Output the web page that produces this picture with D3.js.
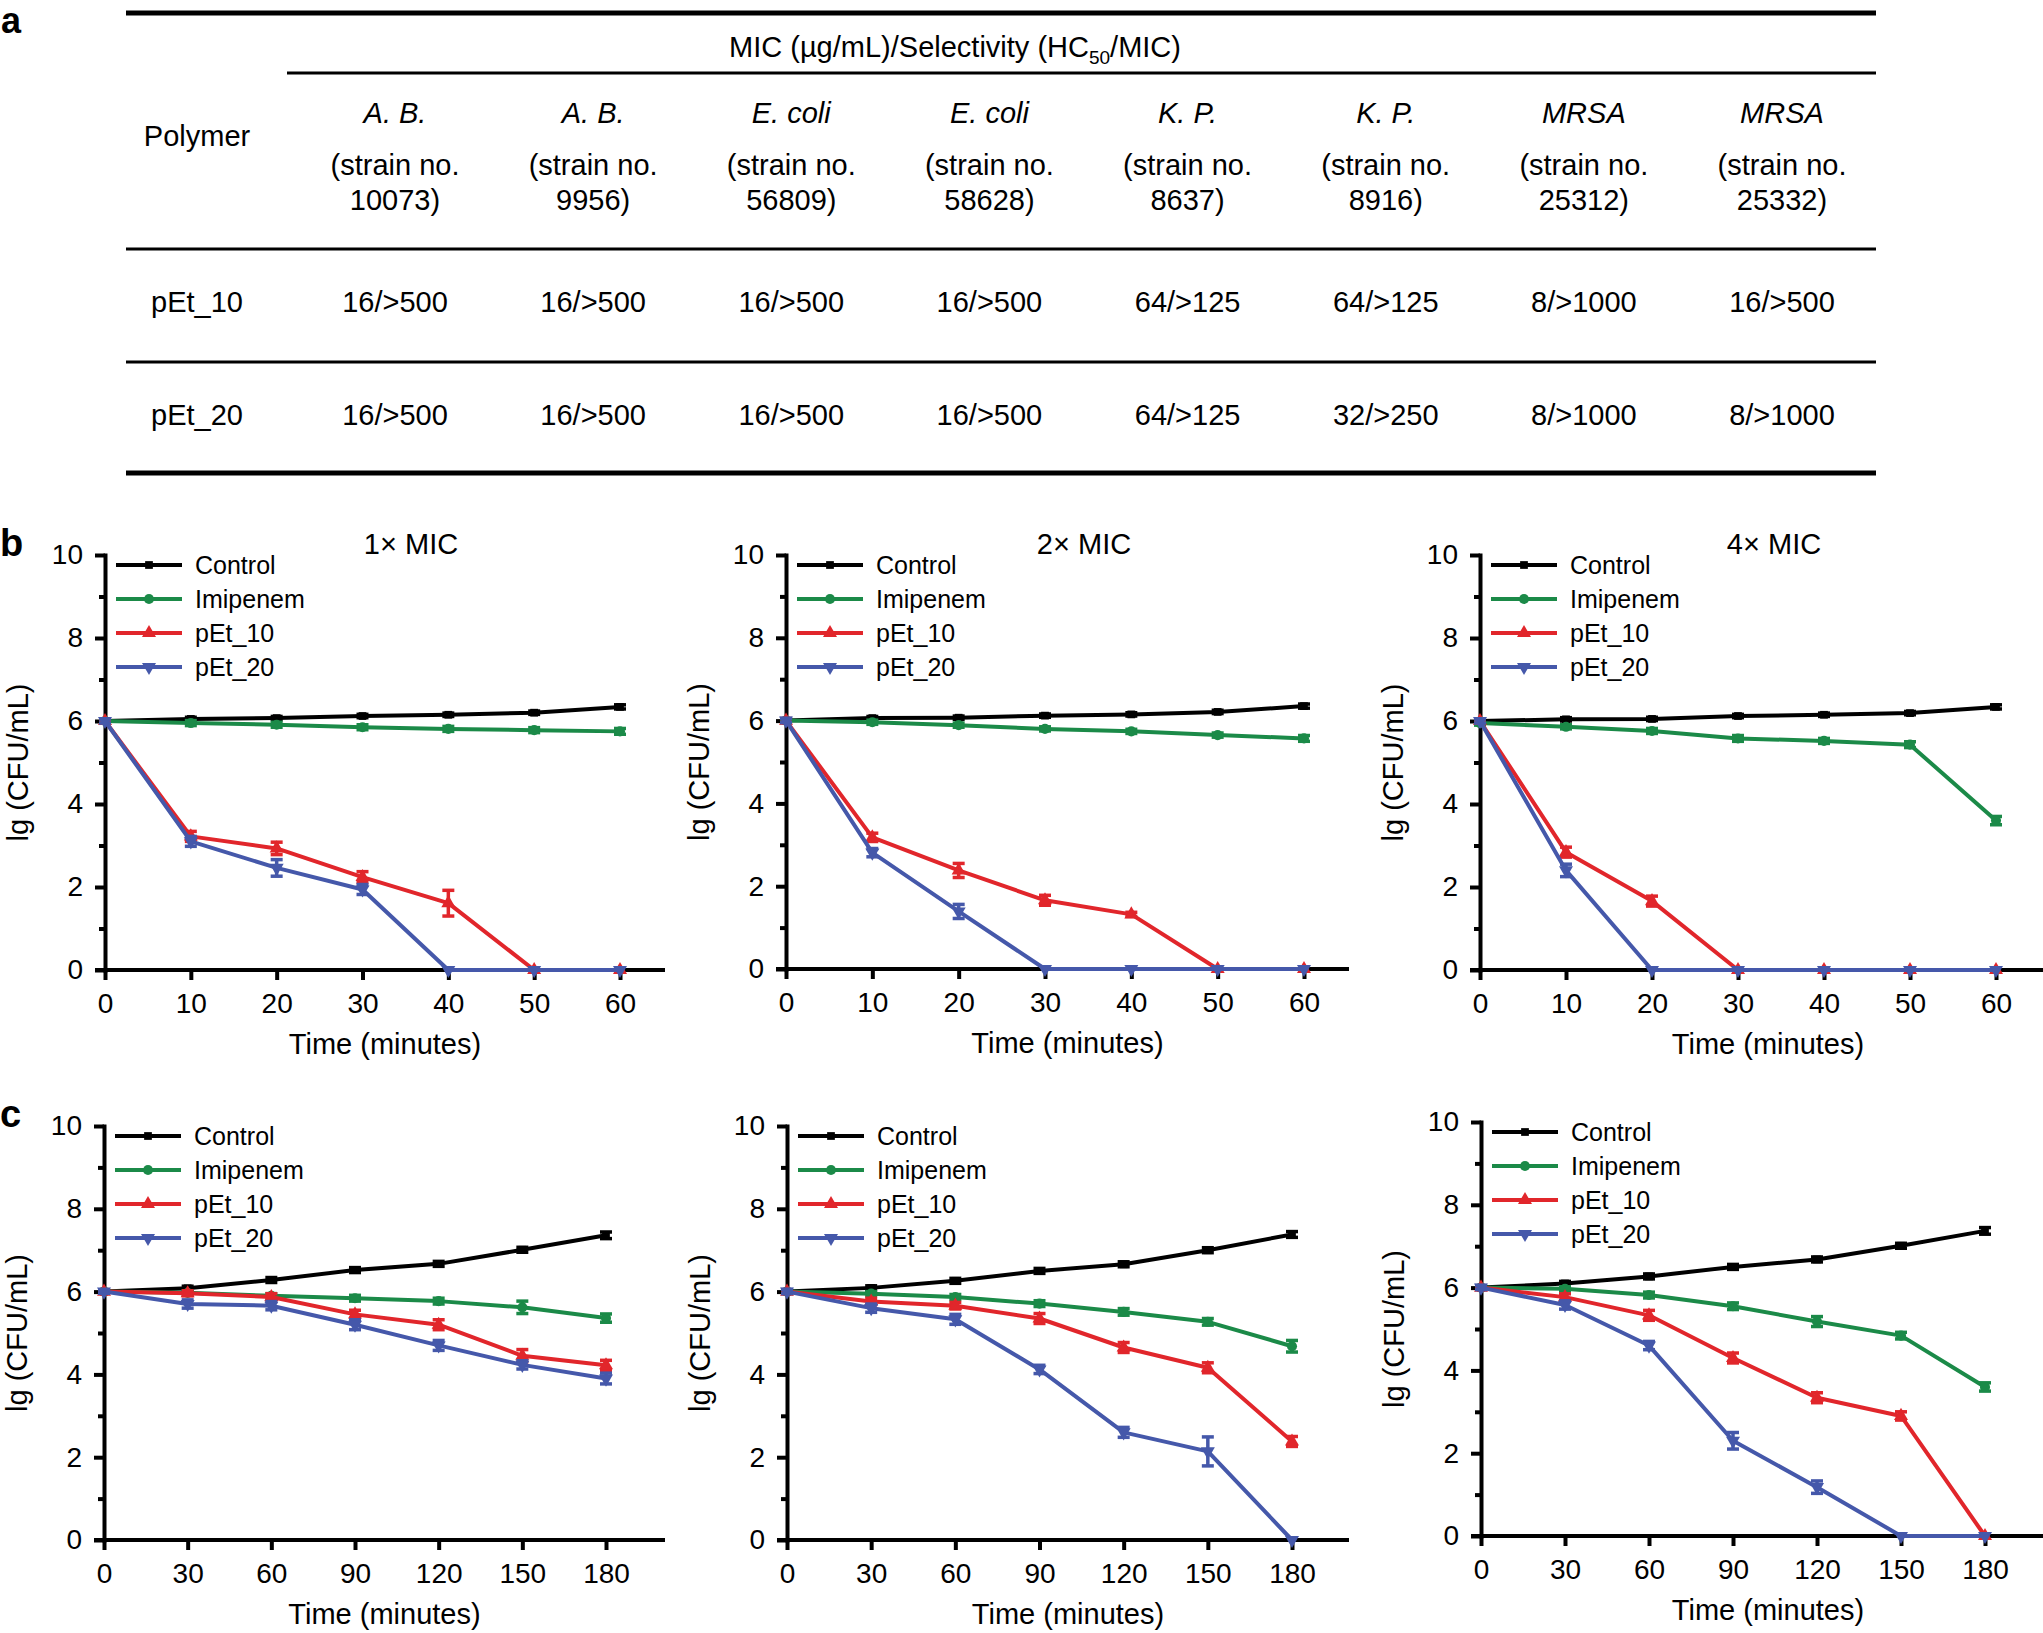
<!DOCTYPE html>
<head>
<meta charset="utf-8">
<style>
  body { margin:0; background:#fff; }
  text { font-family:"Liberation Sans", Arial, Helvetica, sans-serif; fill:#000; }
  .axis path, .axis line { stroke:#000; stroke-width:4; }
</style>
</head>
<script src="https://d3js.org/d3.v7.min.js"></script>
<div id="fig"></div>
<script>
// ---- table (panel a) ----
var species = ["A. B.", "A. B.", "E. coli", "E. coli", "K. P.", "K. P.", "MRSA", "MRSA"];
var strainNos = ["10073", "9956", "56809", "58628", "8637", "8916", "25312", "25332"];
var polymers = ["pEt_10", "pEt_20"];
var pEt10Mic = ["16/>500", "16/>500", "16/>500", "16/>500", "64/>125", "64/>125", "8/>1000", "16/>500"];
var pEt20Mic = ["16/>500", "16/>500", "16/>500", "16/>500", "64/>125", "32/>250", "8/>1000", "8/>1000"];

// ---- time-kill curves ----
var seriesNames = ["Control", "Imipenem", "pEt_10", "pEt_20"];
var timesB = [0, 10, 20, 30, 40, 50, 60];
var timesC = [0, 30, 60, 90, 120, 150, 180];
var yTicks = [0, 2, 4, 6, 8, 10];

// b, 1x MIC
var b1Control  = [6.0, 6.05, 6.07, 6.12, 6.15, 6.2, 6.34];
var b1Imipenem = [6.0, 5.95, 5.91, 5.85, 5.81, 5.78, 5.75];
var b1Pet10    = [6.0, 3.22, 2.93, 2.24, 1.61, 0, 0];
var b1Pet20    = [6.0, 3.1, 2.46, 1.94, 0, 0, 0];
var b1ControlErr  = [0.03, 0.04, 0.04, 0.04, 0.04, 0.04, 0.05];
var b1ImipenemErr = [0.03, 0.06, 0.06, 0.06, 0.06, 0.06, 0.07];
var b1Pet10Err    = [0.05, 0.12, 0.15, 0.13, 0.31, 0, 0];
var b1Pet20Err    = [0.05, 0.12, 0.2, 0.12, 0, 0, 0];
// b, 2x MIC
var b2Control  = [6.0, 6.06, 6.07, 6.12, 6.15, 6.21, 6.35];
var b2Imipenem = [6.0, 5.96, 5.89, 5.8, 5.74, 5.65, 5.57];
var b2Pet10    = [6.0, 3.18, 2.38, 1.66, 1.32, 0, 0];
var b2Pet20    = [6.0, 2.81, 1.39, 0, 0, 0, 0];
var b2ControlErr  = [0.03, 0.04, 0.04, 0.04, 0.04, 0.04, 0.05];
var b2ImipenemErr = [0.03, 0.05, 0.05, 0.05, 0.05, 0.05, 0.07];
var b2Pet10Err    = [0.05, 0.1, 0.17, 0.12, 0.05, 0, 0];
var b2Pet20Err    = [0.05, 0.1, 0.17, 0, 0, 0, 0];
// b, 4x MIC
var b3Control  = [6.0, 6.04, 6.05, 6.12, 6.15, 6.19, 6.34];
var b3Imipenem = [5.95, 5.86, 5.76, 5.58, 5.52, 5.43, 3.6];
var b3Pet10    = [6.0, 2.84, 1.66, 0, 0, 0, 0];
var b3Pet20    = [6.0, 2.4, 0, 0, 0, 0, 0];
var b3ControlErr  = [0.03, 0.04, 0.04, 0.04, 0.04, 0.04, 0.05];
var b3ImipenemErr = [0.05, 0.05, 0.06, 0.07, 0.06, 0.07, 0.1];
var b3Pet10Err    = [0.05, 0.12, 0.12, 0, 0, 0, 0];
var b3Pet20Err    = [0.05, 0.15, 0, 0, 0, 0, 0];
// c, 1x MIC
var c1Control  = [6.0, 6.08, 6.28, 6.52, 6.67, 7.01, 7.36];
var c1Imipenem = [6.0, 5.97, 5.9, 5.84, 5.77, 5.62, 5.36];
var c1Pet10    = [6.0, 5.96, 5.87, 5.45, 5.2, 4.45, 4.22];
var c1Pet20    = [6.0, 5.7, 5.66, 5.2, 4.7, 4.23, 3.9];
var c1ControlErr  = [0.04, 0.05, 0.06, 0.06, 0.06, 0.06, 0.08];
var c1ImipenemErr = [0.03, 0.05, 0.05, 0.07, 0.07, 0.15, 0.1];
var c1Pet10Err    = [0.04, 0.06, 0.08, 0.1, 0.12, 0.15, 0.12];
var c1Pet20Err    = [0.04, 0.1, 0.1, 0.12, 0.12, 0.1, 0.13];
// c, 2x MIC
var c2Control  = [6.0, 6.09, 6.26, 6.5, 6.66, 7.0, 7.38];
var c2Imipenem = [6.0, 5.95, 5.87, 5.71, 5.51, 5.27, 4.68];
var c2Pet10    = [6.0, 5.76, 5.66, 5.35, 4.65, 4.16, 2.38];
var c2Pet20    = [6.0, 5.6, 5.33, 4.12, 2.6, 2.14, 0];
var c2ControlErr  = [0.04, 0.05, 0.06, 0.06, 0.06, 0.06, 0.07];
var c2ImipenemErr = [0.03, 0.05, 0.06, 0.07, 0.08, 0.08, 0.14];
var c2Pet10Err    = [0.04, 0.08, 0.08, 0.12, 0.12, 0.12, 0.12];
var c2Pet20Err    = [0.05, 0.1, 0.12, 0.1, 0.12, 0.35, 0];
// c, 4x MIC
var c3Control  = [6.0, 6.1, 6.27, 6.5, 6.68, 7.01, 7.37];
var c3Imipenem = [6.0, 5.97, 5.82, 5.55, 5.18, 4.84, 3.6];
var c3Pet10    = [6.0, 5.77, 5.33, 4.3, 3.34, 2.9, 0];
var c3Pet20    = [6.0, 5.58, 4.6, 2.3, 1.18, 0, 0];
var c3ControlErr  = [0.04, 0.05, 0.06, 0.06, 0.06, 0.06, 0.08];
var c3ImipenemErr = [0.03, 0.05, 0.07, 0.08, 0.12, 0.08, 0.1];
var c3Pet10Err    = [0.04, 0.08, 0.12, 0.12, 0.12, 0.1, 0];
var c3Pet20Err    = [0.05, 0.1, 0.1, 0.2, 0.15, 0, 0];

var colors = ["#000000", "#1b8a48", "#e1262b", "#4558aa"];

var W = 2043, H = 1633;
var svg = d3.select("#fig").append("svg")
  .attr("width", W).attr("height", H);
svg.append("rect").attr("width", W).attr("height", H).attr("fill", "#fff");

// ================= table =================
var tbl = svg.append("g").attr("font-size", 29);
var colX = d3.scalePoint().domain(d3.range(species.length)).range([395, 1782]);

function hline(y, x1, w) {
  tbl.append("line").attr("x1", x1).attr("x2", 1876).attr("y1", y).attr("y2", y)
    .attr("stroke", "#000").attr("stroke-width", w);
}
hline(13, 126, 5);
hline(73, 287, 3);
hline(249, 126, 3);
hline(362, 126, 3);
hline(473, 126, 5);

svg.append("text").attr("x", 1).attr("y", 33).attr("font-size", 36)
  .attr("font-weight", "bold").text("a");

var hdr = tbl.append("text").attr("x", 955).attr("y", 57).attr("text-anchor", "middle");
hdr.append("tspan").text("MIC (\u00b5g/mL)/Selectivity (HC");
hdr.append("tspan").attr("font-size", 19).attr("dy", 7).text("50");
hdr.append("tspan").attr("dy", -7).text("/MIC)");

tbl.append("text").attr("x", 197).attr("y", 146).attr("text-anchor", "middle").text("Polymer");

tbl.selectAll(".sp").data(species).enter().append("text")
  .attr("x", function(d, i) { return colX(i); }).attr("y", 123)
  .attr("text-anchor", "middle").attr("font-style", "italic").text(function(d) { return d; });
tbl.selectAll(".st").data(strainNos).enter().append("text")
  .attr("x", function(d, i) { return colX(i); }).attr("y", 175)
  .attr("text-anchor", "middle").text("(strain no.");
tbl.selectAll(".sn").data(strainNos).enter().append("text")
  .attr("x", function(d, i) { return colX(i); }).attr("y", 210)
  .attr("text-anchor", "middle").text(function(d) { return d + ")"; });

[pEt10Mic, pEt20Mic].forEach(function(row, r) {
  var y = r === 0 ? 312 : 425;
  tbl.append("text").attr("x", 197).attr("y", y).attr("text-anchor", "middle").text(polymers[r]);
  tbl.selectAll(".v" + r).data(row).enter().append("text")
    .attr("x", function(d, i) { return colX(i); }).attr("y", y)
    .attr("text-anchor", "middle").text(function(d) { return d; });
});

// ================= curves =================
var panels = [
  {times: timesB, vals: [b1Control, b1Imipenem, b1Pet10, b1Pet20], errs: [b1ControlErr, b1ImipenemErr, b1Pet10Err, b1Pet20Err],
   x0: 105, x1: 620, ext: 45, yTop: 555, yBot: 970, title: "1\u00d7 MIC", titleX: 411, letter: "b"},
  {times: timesB, vals: [b2Control, b2Imipenem, b2Pet10, b2Pet20], errs: [b2ControlErr, b2ImipenemErr, b2Pet10Err, b2Pet20Err],
   x0: 786, x1: 1304, ext: 45, yTop: 555, yBot: 969, title: "2\u00d7 MIC", titleX: 1084},
  {times: timesB, vals: [b3Control, b3Imipenem, b3Pet10, b3Pet20], errs: [b3ControlErr, b3ImipenemErr, b3Pet10Err, b3Pet20Err],
   x0: 1480, x1: 1996, ext: 60, yTop: 555, yBot: 970, title: "4\u00d7 MIC", titleX: 1774},
  {times: timesC, vals: [c1Control, c1Imipenem, c1Pet10, c1Pet20], errs: [c1ControlErr, c1ImipenemErr, c1Pet10Err, c1Pet20Err],
   x0: 104, x1: 606, ext: 59, yTop: 1126, yBot: 1540, letter: "c"},
  {times: timesC, vals: [c2Control, c2Imipenem, c2Pet10, c2Pet20], errs: [c2ControlErr, c2ImipenemErr, c2Pet10Err, c2Pet20Err],
   x0: 787, x1: 1292, ext: 57, yTop: 1126, yBot: 1540},
  {times: timesC, vals: [c3Control, c3Imipenem, c3Pet10, c3Pet20], errs: [c3ControlErr, c3ImipenemErr, c3Pet10Err, c3Pet20Err],
   x0: 1481, x1: 1985, ext: 70, yTop: 1122, yBot: 1536}
];

function marker(g, s, x, y) {
  var shapes = [d3.symbolSquare, d3.symbolCircle, d3.symbolTriangle, d3.symbolTriangle];
  var sizes = [60, 80, 85, 85];
  g.append("path")
    .attr("d", d3.symbol().type(shapes[s]).size(sizes[s]))
    .attr("transform", "translate(" + x + "," + y + ")" + (s === 3 ? " rotate(180)" : ""))
    .attr("fill", colors[s]);
}

panels.forEach(function(p) {
  var g = svg.append("g");
  var x = d3.scaleLinear().domain([0, d3.max(p.times)]).range([p.x0, p.x1]);
  var y = d3.scaleLinear().domain([0, 10]).range([p.yBot, p.yTop]);

  // minor y ticks
  g.append("g").attr("class", "axis").attr("transform", "translate(" + p.x0 + ",0)")
    .call(d3.axisLeft(y).tickValues([1, 3, 5, 7, 9]).tickSize(6).tickSizeOuter(0).tickFormat(""))
    .select(".domain").remove();
  // major y axis
  var ya = g.append("g").attr("class", "axis").attr("transform", "translate(" + p.x0 + ",0)")
    .call(d3.axisLeft(y).tickValues(yTicks).tickSize(10).tickPadding(12).tickSizeOuter(0));
  ya.selectAll("text").attr("font-size", 28);
  ya.select(".domain").attr("stroke-linecap", "square");

  // x axis
  var xa = g.append("g").attr("class", "axis").attr("transform", "translate(0," + p.yBot + ")")
    .call(d3.axisBottom(x).tickValues(p.times).tickSize(10).tickPadding(13).tickSizeOuter(0));
  xa.selectAll("text").attr("font-size", 28);
  xa.select(".domain").remove();
  xa.append("line").attr("x1", p.x0 - 10).attr("x2", p.x1 + p.ext)
    .attr("stroke", "#000").attr("stroke-width", 4);

  // labels
  g.append("text").attr("transform", "translate(" + (p.x0 - 77) + "," + ((p.yTop + p.yBot) / 2) + ") rotate(-90)")
    .attr("text-anchor", "middle").attr("font-size", 29).text("lg (CFU/mL)");
  g.append("text").attr("x", (p.x0 + p.x1 + p.ext) / 2).attr("y", p.yBot + 84)
    .attr("text-anchor", "middle").attr("font-size", 29).text("Time (minutes)");
  if (p.title) {
    g.append("text").attr("x", p.titleX).attr("y", p.yTop - 1)
      .attr("text-anchor", "middle").attr("font-size", 29).text(p.title);
  }
  if (p.letter) {
    g.append("text").attr("x", 0).attr("y", p.yTop + 1).attr("font-size", 38)
      .attr("font-weight", "bold").text(p.letter);
  }

  // legend
  seriesNames.forEach(function(name, s) {
    var ly = p.yTop + 10 + s * 34;
    var lg = g.append("g");
    lg.append("line").attr("x1", p.x0 + 11).attr("x2", p.x0 + 77).attr("y1", ly).attr("y2", ly)
      .attr("stroke", colors[s]).attr("stroke-width", 4);
    marker(lg, s, p.x0 + 44, ly);
    lg.append("text").attr("x", p.x0 + 90).attr("y", ly + 9).attr("font-size", 25).text(name);
  });

  // series
  var line = d3.line().x(function(d) { return x(d[0]); }).y(function(d) { return y(d[1]); });
  p.vals.forEach(function(vals, s) {
    var pts = p.times.map(function(t, i) { return [t, vals[i], p.errs[s][i]]; });
    var sg = g.append("g");
    sg.append("path").datum(pts).attr("d", line)
      .attr("fill", "none").attr("stroke", colors[s]).attr("stroke-width", 4)
      .attr("stroke-linejoin", "round");
    pts.forEach(function(d) {
      var cx = x(d[0]);
      if (d[2] > 0) {
        var y1 = y(d[1] + d[2]), y2 = y(d[1] - d[2]);
        sg.append("line").attr("x1", cx).attr("x2", cx).attr("y1", y1).attr("y2", y2)
          .attr("stroke", colors[s]).attr("stroke-width", 3.5);
        [y1, y2].forEach(function(yy) {
          sg.append("line").attr("x1", cx - 6).attr("x2", cx + 6).attr("y1", yy).attr("y2", yy)
            .attr("stroke", colors[s]).attr("stroke-width", 3.5);
        });
      }
      marker(sg, s, cx, y(d[1]));
    });
  });
});
</script>
